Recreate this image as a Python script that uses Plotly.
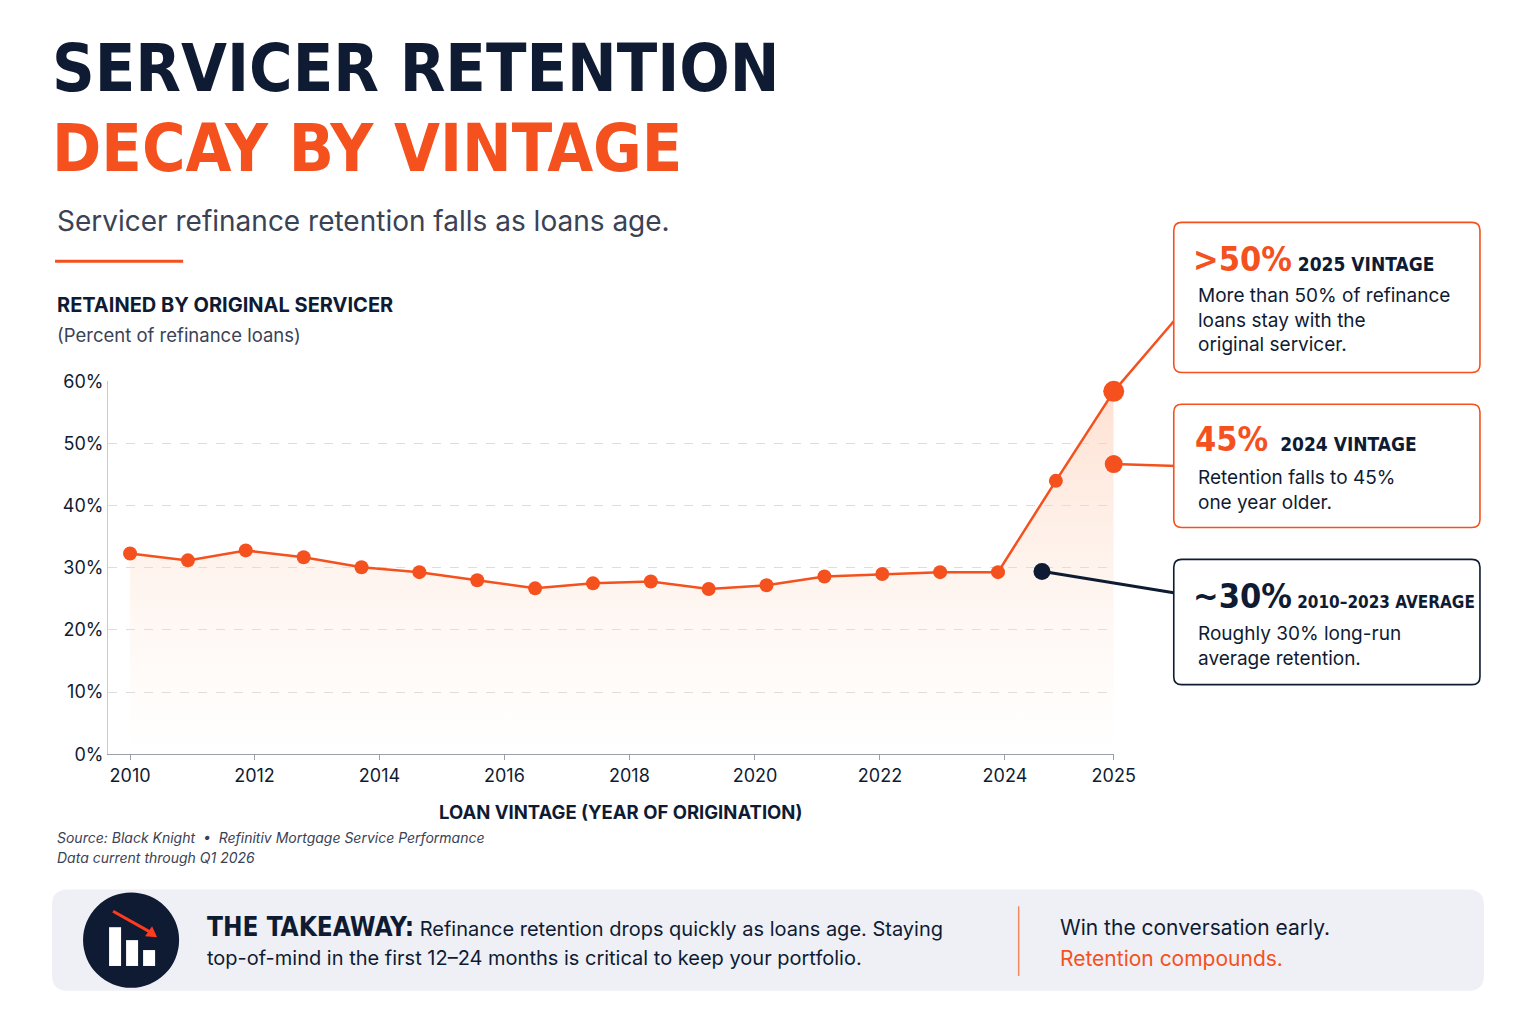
import plotly.graph_objects as go

# ---- data ----
pt_index = list(range(18))
retention = [32.3, 31.2, 32.8, 31.7, 30.1, 29.3, 28.0, 26.7, 27.5, 27.8, 26.6, 27.2, 28.6, 29.0, 29.3, 29.3, 44.0, 58.4]
vintage_2024_idx = [17]
vintage_2024_val = [46.7]
avg_idx = [15.76]
avg_val = [29.4]
tick_pos = [0, 2.15, 4.31, 6.47, 8.63, 10.8, 12.96, 15.12, 17]
tick_text = ["2010", "2012", "2014", "2016", "2018", "2020", "2022", "2024", "2025"]
y_ticks = [0, 10, 20, 30, 40, 50, 60]

OR = "#f4511e"
NAVY = "#0f1b33"
W, H = 1536, 1024
OFF = 7.4
px = lambda x: x / W
py = lambda y: 1 - (y - OFF) / H

fig = go.Figure()
fig.add_trace(go.Scatter(
    x=pt_index, y=retention, mode="lines", cliponaxis=False,
    line=dict(color=OR, width=2.5),
    fill="tozeroy",
    fillgradient=dict(type="vertical", colorscale=[[0, "rgba(255,230,215,0)"], [1, "rgba(253,205,180,0.6)"]]),
    hoverinfo="skip"))
fig.add_trace(go.Scatter(x=pt_index, y=retention, mode="markers", cliponaxis=False,
                         marker=dict(color=OR, size=[14]*17 + [21], opacity=1, line=dict(width=0))))
fig.add_trace(go.Scatter(x=vintage_2024_idx, y=vintage_2024_val, mode="markers", cliponaxis=False,
                         marker=dict(color=OR, size=18, opacity=1)))
fig.add_trace(go.Scatter(x=avg_idx, y=avg_val, mode="markers", cliponaxis=False,
                         marker=dict(color=NAVY, size=17, opacity=1)))

fig.update_layout(
    width=1559, height=1039, margin=dict(l=0, r=0, t=0, b=0),
    paper_bgcolor="white", plot_bgcolor="white", showlegend=False,
    font=dict(family="Inter, Roboto, sans-serif", color=NAVY),
    xaxis=dict(domain=[px(108), px(1113)], range=[-0.38, 17], tickvals=tick_pos, ticktext=tick_text,
               showgrid=False, zeroline=False, showline=True, linecolor="#9aa0aa", ticks="outside",
               ticklen=5, tickcolor="#9aa0aa", tickfont=dict(size=18, color=NAVY)),
    yaxis=dict(domain=[py(755), py(380)], range=[0, 60], tickvals=y_ticks,
               ticktext=[f"{v}%" for v in y_ticks], showgrid=True, gridcolor="#dddddd", griddash="dash",
               zeroline=False, showline=True, linecolor="#c8ccd2", tickfont=dict(size=18, color=NAVY)),
)

def rrect(x0, y0, x1, y1, r):
    X0, X1 = px(x0), px(x1); Y0, Y1 = py(y0), py(y1)
    rx, ry = r / W, r / H
    return (f"M{X0+rx},{Y0} L{X1-rx},{Y0} Q{X1},{Y0} {X1},{Y0-ry} L{X1},{Y1+ry} Q{X1},{Y1} {X1-rx},{Y1} "
            f"L{X0+rx},{Y1} Q{X0},{Y1} {X0},{Y1+ry} L{X0},{Y0-ry} Q{X0},{Y0} {X0+rx},{Y0} Z")

shapes = []
def line(x0, y0, x1, y1, color, w):
    shapes.append(dict(type="line", xref="paper", yref="paper", x0=px(x0), y0=py(y0), x1=px(x1), y1=py(y1),
                       line=dict(color=color, width=w)))

line(55, 259, 183, 259, OR, 3)
line(1113, 390, 1176, 316, OR, 2.5)
line(1113, 463, 1176, 465, OR, 2.5)
line(1041, 571, 1176, 593, NAVY, 3)
for (y0, y1, c) in [(220, 371, OR), (403, 527, OR), (559, 685, NAVY)]:
    shapes.append(dict(type="path", xref="paper", yref="paper", path=rrect(1173, y0, 1479, y1, 8),
                       fillcolor="white", line=dict(color=c, width=1.6)))
shapes.append(dict(type="path", xref="paper", yref="paper", path=rrect(52, 891, 1483, 993, 16),
                   fillcolor="#eef0f5", line=dict(width=0)))
shapes.append(dict(type="circle", xref="paper", yref="paper", x0=px(83), x1=px(179), y0=py(894), y1=py(990),
                   fillcolor=NAVY, line=dict(width=0)))
for (bx0, bx1, by0) in [(109, 121, 929), (126, 138, 942), (143, 155, 952)]:
    shapes.append(dict(type="rect", xref="paper", yref="paper", x0=px(bx0), x1=px(bx1), y0=py(by0), y1=py(968),
                       fillcolor="white", line=dict(width=0)))
line(113, 913, 152, 935, "#ff3b1f", 3)
shapes.append(dict(type="path", xref="paper", yref="paper",
                   path=f"M{px(157)},{py(939)} L{px(145)},{py(938)} L{px(152)},{py(928)} Z",
                   fillcolor="#ff3b1f", line=dict(width=0)))
line(1018, 908, 1018, 978, "#f08a5d", 1.5)
fig.update_layout(shapes=shapes)

ann = []
def T(x, y, text, size, color=NAVY, family="Inter, Roboto, sans-serif", xanchor="left", yanchor="middle"):
    ann.append(dict(x=px(x), y=py(y), xref="paper", yref="paper", text=text, showarrow=False,
                    xanchor=xanchor, yanchor=yanchor, align="left",
                    font=dict(size=size, color=color, family=family)))

COND = "DejaVu Sans Condensed, sans-serif"
T(50, 65, "<b>SERVICER RETENTION</b>", 66, NAVY, COND)
T(50, 146, "<b>DECAY BY VINTAGE</b>", 66, OR, COND)
T(55, 219, "Servicer refinance retention falls as loans age.", 28, "#3a4255")
T(55, 303, "<b>RETAINED BY ORIGINAL SERVICER</b>", 20)
T(55, 333, "(Percent of refinance loans)", 18.5, "#3a4255")
T(620, 813, "<b>LOAN VINTAGE (YEAR OF ORIGINATION)</b>", 18.5, xanchor="center")
T(55, 839, "<i>Source: Black Knight  •  Refinitiv Mortgage Service Performance</i>", 14, "#3a4255")
T(55, 859, "<i>Data current through Q1 2026</i>", 14, "#3a4255")

T(1190, 257, f"<b><span style='font-size:34px;color:{OR}'>&gt;50%</span> <span style='font-size:19px'>2025 VINTAGE</span></b>", 19, NAVY, COND)
T(1195, 318, "More than 50% of refinance<br>loans stay with the<br>original servicer.", 19)
T(1192, 438, f"<b><span style='font-size:34px;color:{OR}'>45%</span>  <span style='font-size:19px'>2024 VINTAGE</span></b>", 19, NAVY, COND)
T(1195, 489, "Retention falls to 45%<br>one year older.", 19)
T(1190, 596, f"<b><span style='font-size:34px'>~30%</span> <span style='font-size:17px'>2010–2023 AVERAGE</span></b>", 17, NAVY, COND)
T(1195, 646, "Roughly 30% long-run<br>average retention.", 19)

T(205, 929, f"<b><span style='font-size:26px;font-family:DejaVu Sans Condensed'>THE TAKEAWAY:</span></b> Refinance retention drops quickly as loans age. Staying", 20)
T(205, 960, "top-of-mind in the first 12–24 months is critical to keep your portfolio.", 20)
T(1057, 929, "Win the conversation early.", 21)
T(1057, 960, "Retention compounds.", 21, OR)
fig.update_layout(annotations=ann)

fig.write_html("out.html", config={"displayModeBar": False},
               post_script="document.documentElement.style.overflow='hidden';document.body.style.margin='0';document.body.style.overflow='hidden';")
